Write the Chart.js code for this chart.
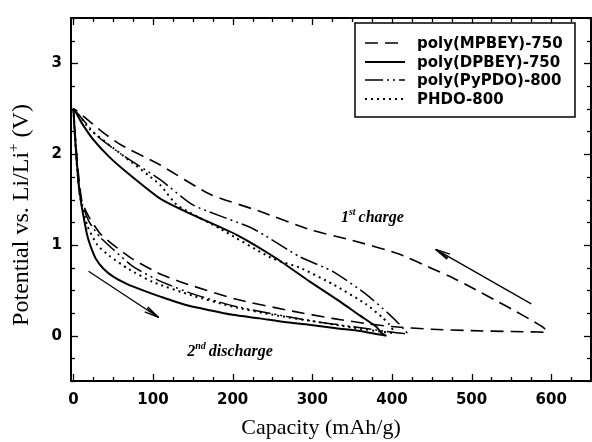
<!DOCTYPE html>
<html><head><meta charset="utf-8">
<script src="https://cdn.jsdelivr.net/npm/chart.js@4/dist/chart.umd.min.js"></script>
<style>html,body{margin:0;padding:0;background:#fff}#wrap{width:592px;height:442px}</style>
</head><body><div id="wrap"><canvas id="c" width="592" height="442"></canvas></div>
<script>
// ---- data (capacity mAh/g, potential V) ----
const seriesNames = ["poly(MPBEY)-750", "poly(DPBEY)-750", "poly(PyPDO)-800", "PHDO-800"];

// poly(MPBEY)-750 : 2nd discharge branch then 1st charge branch (loop)
const mpbeyCap = [0, 2, 5, 8, 11, 20, 34, 50, 75, 109, 142, 205, 275, 325, 370, 400, 450, 500, 550, 585,
                  595, 590, 575, 555, 534, 500, 471, 450, 409, 346, 300, 234, 171, 109, 60, 37, 15, 4, 0];
const mpbeyV   = [2.5, 2.25, 1.9, 1.65, 1.47, 1.3, 1.12, 1.0, 0.84, 0.68, 0.57, 0.4, 0.27, 0.19, 0.13, 0.1, 0.07, 0.055, 0.045, 0.04,
                  0.04, 0.09, 0.17, 0.27, 0.37, 0.53, 0.66, 0.74, 0.9, 1.06, 1.16, 1.37, 1.56, 1.88, 2.1, 2.24, 2.4, 2.48, 2.5];

// poly(DPBEY)-750
const dpbeyCap = [0, 2, 4, 7, 10, 13, 17, 21, 28, 37.5, 50, 67, 90, 109, 140, 171, 200, 234, 265, 296, 330, 360, 392,
                  388, 380, 360, 334, 296, 255, 205, 150, 109, 67, 45, 25, 10, 2, 0];
const dpbeyV   = [2.5, 2.2, 1.95, 1.65, 1.45, 1.3, 1.12, 1.0, 0.85, 0.74, 0.65, 0.57, 0.49, 0.43, 0.34, 0.28, 0.23, 0.19, 0.15, 0.12, 0.08, 0.05, 0.0,
                  0.02, 0.1, 0.22, 0.38, 0.6, 0.85, 1.11, 1.33, 1.51, 1.8, 1.97, 2.16, 2.35, 2.48, 2.5];

// poly(PyPDO)-800
const pypdoCap = [0, 2, 5, 8, 11, 20, 34, 50, 75, 109, 150, 200, 250, 300, 350, 390, 420,
                  417, 410, 396, 367, 325, 284, 225, 150, 109, 60, 30, 10, 0];
const pypdoV   = [2.5, 2.2, 1.8, 1.55, 1.45, 1.25, 1.08, 0.95, 0.76, 0.6, 0.46, 0.33, 0.24, 0.16, 0.1, 0.05, 0.02,
                  0.05, 0.12, 0.24, 0.46, 0.71, 0.87, 1.18, 1.44, 1.72, 2.0, 2.2, 2.4, 2.5];

// PHDO-800
const phdoCap = [0, 2, 5, 8, 11, 18, 30, 45, 70, 100, 150, 200, 250, 300, 350, 400,
                 402, 396, 388, 367, 325, 284, 250, 184, 130, 109, 60, 21, 8, 0];
const phdoV   = [2.5, 2.2, 1.8, 1.55, 1.42, 1.2, 1.0, 0.88, 0.73, 0.59, 0.44, 0.32, 0.23, 0.16, 0.09, 0.03,
                 0.05, 0.13, 0.2, 0.35, 0.57, 0.75, 0.85, 1.18, 1.44, 1.66, 2.0, 2.27, 2.42, 2.5];

const xTickValues = [0, 100, 200, 300, 400, 500, 600];
const yTickValues = [0, 1, 2, 3];

const xTitle = "Capacity (mAh/g)";
const yTitleParts = ["Potential vs. Li/Li", "+", " (V)"];

// ---- build ----
const pts = (xs, ys) => xs.map((v, i) => ({x: v, y: ys[i]}));
const styles = [
  {borderDash: [13, 7], borderWidth: 1.6},
  {borderDash: [], borderWidth: 2},
  {borderDash: [18, 4, 2, 4, 2, 4], borderWidth: 1.5},
  {borderDash: [2, 4], borderWidth: 2}
];
const allData = [pts(mpbeyCap, mpbeyV), pts(dpbeyCap, dpbeyV), pts(pypdoCap, pypdoV), pts(phdoCap, phdoV)];
const datasets = seriesNames.map((n, i) => Object.assign({
  label: n, data: allData[i], showLine: true, pointRadius: 0, fill: false,
  borderColor: '#000', tension: 0.2
}, styles[i]));

const framePlugin = {
  id: 'frame',
  afterDatasetsDraw(chart) {
    const {ctx, chartArea: a, scales: {x, y}} = chart;
    ctx.save();
    ctx.strokeStyle = '#000';
    ctx.setLineDash([]);
    const seg = (x1, y1, x2, y2) => { ctx.beginPath(); ctx.moveTo(x1, y1); ctx.lineTo(x2, y2); ctx.stroke(); };
    ctx.lineWidth = 1.3;
    for (let v = 0; v <= 650; v += 25) {
      const px = Math.round(x.getPixelForValue(v)) + 0.5;
      const L = v % 100 === 0 ? 7 : 4;
      seg(px, a.bottom, px, a.bottom - L);
      seg(px, a.top, px, a.top + L);
    }
    for (let k = -2; k <= 14; k++) {
      const v = k * 0.25;
      const py = Math.round(y.getPixelForValue(v)) + 0.5;
      const L = k % 4 === 0 ? 7 : 4;
      seg(a.left, py, a.left + L, py);
      seg(a.right, py, a.right - L, py);
    }
    ctx.lineWidth = 2;
    ctx.strokeRect(a.left, a.top, a.right - a.left, a.bottom - a.top);
    ctx.restore();
  }
};

const legendPlugin = {
  id: 'boxLegend',
  afterDraw(chart) {
    const ctx = chart.ctx;
    const bx = 355, by = 23, bw = 220, bh = 94;
    ctx.save();
    ctx.fillStyle = '#fff';
    ctx.fillRect(bx, by, bw, bh);
    ctx.strokeStyle = '#000'; ctx.lineWidth = 1.5; ctx.setLineDash([]);
    ctx.strokeRect(bx, by, bw, bh);
    const rows = [43, 62, 80, 99];
    ctx.font = 'bold 15px "DejaVu Sans"';
    ctx.textBaseline = 'middle';
    ctx.fillStyle = '#000';
    chart.data.datasets.forEach((ds, i) => {
      const yy = rows[i];
      ctx.setLineDash(ds.borderDash || []);
      ctx.lineWidth = ds.borderWidth;
      ctx.beginPath(); ctx.moveTo(365, yy); ctx.lineTo(405, yy); ctx.stroke();
      ctx.setLineDash([]);
      ctx.fillText(ds.label, 417, yy + 1);
    });
    ctx.restore();
  }
};

function arrow(ctx, x1, y1, x2, y2) {
  ctx.beginPath(); ctx.moveTo(x1, y1); ctx.lineTo(x2, y2); ctx.stroke();
  const ang = Math.atan2(y2 - y1, x2 - x1);
  const L = 15;
  [0.2, -0.2, 0.1].forEach(d => {
    ctx.beginPath();
    ctx.moveTo(x2, y2);
    ctx.lineTo(x2 - L * Math.cos(ang + d), y2 - L * Math.sin(ang + d));
    ctx.stroke();
  });
}

const annotPlugin = {
  id: 'annot',
  afterDatasetsDraw(chart) {
    const {ctx, scales: {x, y}} = chart;
    ctx.save();
    ctx.strokeStyle = '#000'; ctx.fillStyle = '#000'; ctx.lineWidth = 1.3; ctx.setLineDash([]);
    arrow(ctx, x.getPixelForValue(19), y.getPixelForValue(0.71), x.getPixelForValue(107), y.getPixelForValue(0.20));
    arrow(ctx, x.getPixelForValue(575), y.getPixelForValue(0.35), x.getPixelForValue(455), y.getPixelForValue(0.95));
    const label = (px, py, num, sup, rest) => {
      ctx.textBaseline = 'alphabetic';
      ctx.font = 'italic bold 16px "Liberation Serif"';
      ctx.fillText(num, px, py);
      let w = ctx.measureText(num).width;
      ctx.font = 'italic bold 10px "Liberation Serif"';
      ctx.fillText(sup, px + w, py - 7);
      w += ctx.measureText(sup).width + 3;
      ctx.font = 'italic bold 16px "Liberation Serif"';
      ctx.fillText(rest, px + w, py);
    };
    label(x.getPixelForValue(336), y.getPixelForValue(1.25), '1', 'st', 'charge');
    label(x.getPixelForValue(143), y.getPixelForValue(-0.22), '2', 'nd', 'discharge');

    // axis titles
    ctx.textBaseline = 'middle';
    ctx.textAlign = 'center';
    ctx.font = '22px "Liberation Serif"';
    ctx.fillText(xTitle, 321, 428);
    // y title, rotated
    ctx.save();
    ctx.translate(22, 215);
    ctx.rotate(-Math.PI / 2);
    ctx.textAlign = 'left';
    const big = '24px "Liberation Serif"', small = '15px "Liberation Serif"';
    ctx.font = big;
    const w0 = ctx.measureText(yTitleParts[0]).width;
    const w2 = ctx.measureText(yTitleParts[2]).width;
    ctx.font = small;
    const w1 = ctx.measureText(yTitleParts[1]).width;
    let cx = -(w0 + w1 + w2) / 2;
    ctx.font = big; ctx.fillText(yTitleParts[0], cx, 0); cx += w0;
    ctx.font = small; ctx.fillText(yTitleParts[1], cx, -8); cx += w1;
    ctx.font = big; ctx.fillText(yTitleParts[2], cx, 0);
    ctx.restore();
    ctx.restore();
  }
};

new Chart(document.getElementById('c'), {
  type: 'scatter',
  data: {datasets},
  options: {
    responsive: false, animation: false, devicePixelRatio: 1,
    layout: {padding: {top: 13, right: 1, left: 0, bottom: 0}},
    plugins: {legend: {display: false}, tooltip: {enabled: false}},
    scales: {
      x: {
        type: 'linear', min: -3, max: 650,
        afterBuildTicks: s => { s.ticks = xTickValues.map(v => ({value: v})); },
        afterFit: s => { s.height = 61; },
        grid: {display: false, drawTicks: false}, border: {display: false},
        ticks: {color: '#000', padding: 10, font: {family: '"DejaVu Sans"', weight: 'bold', size: 15}, maxRotation: 0},
        title: {display: false}
      },
      y: {
        type: 'linear', min: -0.5, max: 3.5,
        afterBuildTicks: s => { s.ticks = yTickValues.map(v => ({value: v})); },
        afterFit: s => { s.width = 71; },
        grid: {display: false, drawTicks: false}, border: {display: false},
        ticks: {color: '#000', padding: 9, font: {family: '"DejaVu Sans"', weight: 'bold', size: 15}},
        title: {display: false}
      }
    }
  },
  plugins: [framePlugin, annotPlugin, legendPlugin]
});
</script>
</body></html>
